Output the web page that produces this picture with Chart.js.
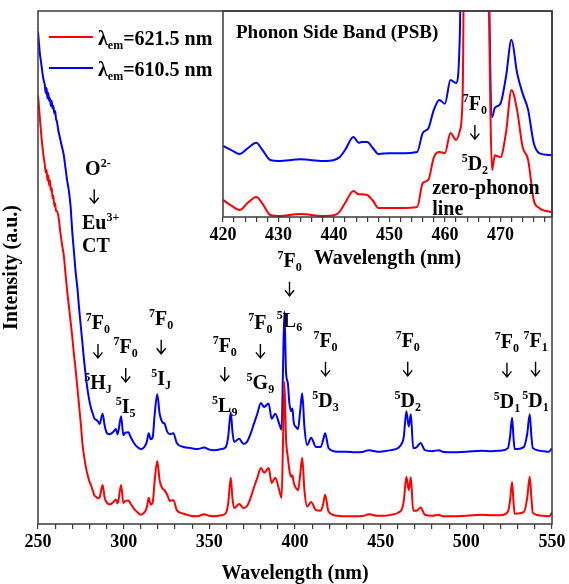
<!DOCTYPE html>
<html>
<head>
<meta charset="utf-8">
<script src="https://cdn.jsdelivr.net/npm/chart.js@4.4.0/dist/chart.umd.min.js"></script>
<style>
  html, body { margin: 0; padding: 0; background: #fff; }
  #wrap { position: relative; width: 569px; height: 584px; }
  #main { position: absolute; left: 0; top: 0; }
  #inset { position: absolute; left: 200px; top: 0; }
</style>
</head>
<body>
<div id="wrap">
  <canvas id="main" width="569" height="584"></canvas>
  <canvas id="inset" width="369" height="270"></canvas>
</div>
<script>
// excitation spectra, main panel (nm / a.u., blue trace offset upward)
const wavelength = [
  250, 251, 252, 253, 254, 254.5, 255, 255.5, 256, 256.5,
  257, 257.5, 258, 258.5, 259, 259.5, 260, 260.5, 261, 262,
  263, 264, 265, 266, 267, 268, 269, 270, 271, 272,
  273, 274, 275, 276, 277, 278, 279, 280, 281, 282,
  283, 284, 285, 286, 287.7, 289, 290.3, 292, 294, 295.5,
  296.5, 298.5, 299.8, 301, 302.8, 304, 306, 308, 310, 312,
  313.5, 314.6, 315.8, 317, 318, 319.6, 321, 322.5, 324, 325.4,
  327, 329, 331, 335, 339, 343, 347, 350, 353, 357,
  359.6, 361, 362.5, 363.5, 364.5, 367.4, 370, 372, 374, 376.2,
  378, 380.1, 382, 384.6, 386.4, 388.5, 390.8, 392.2, 393, 393.8,
  394.8, 395.8, 396.7, 397.7, 398.5, 399.3, 400.6, 401.8, 403, 404.2,
  405.5, 407.1, 409.4, 412.3, 415, 416.5, 417.6, 419.6, 425, 430,
  435, 440, 443, 445, 448, 452, 456, 460.2, 462.5, 463.5,
  465, 466.4, 467.6, 469, 471, 473.3, 475.8, 480, 484, 486,
  490, 500, 509, 515, 520, 524.3, 525.5, 526.7, 527.5, 528.2,
  533.5, 535.5, 537, 538, 538.8, 545, 548.2, 550,
]
const red621 = [
  83.6, 79.5, 75.5, 72.3, 70, 68.5, 69, 67, 68, 66,
  67, 65, 65.5, 63.5, 64, 62, 62.5, 61, 61, 59.8,
  57, 54.5, 52.5, 49, 45.5, 42.5, 39.5, 36.5, 33, 30,
  26.5, 23, 19.5, 15.5, 13, 11, 9.5, 8.3, 7.5, 6.5,
  5.5, 5.3, 5, 5.2, 7.6, 5, 4.1, 3.8, 4.3, 4.8,
  4, 7.6, 4.1, 4.5, 4.6, 4, 3, 2.3, 1.8, 2.2,
  3.2, 5.1, 3.8, 4.3, 8, 12.3, 8.5, 7, 6.5, 5.7,
  4.5, 4.7, 2.7, 2, 1.6, 1.5, 1.9, 1.6, 1.5, 1.7,
  2.1, 4, 9, 5, 3.1, 3.9, 3.1, 3.5, 5, 7.3,
  9, 10.9, 10, 10.9, 8, 9, 6.6, 5.1, 16, 27.7,
  16.4, 13.1, 10.5, 9.2, 9.5, 8, 7, 6.6, 9.5, 12.9,
  6.6, 3.4, 4.3, 2.7, 2.6, 4, 5.7, 2.4, 1.6, 1.5,
  1.5, 1.6, 1.9, 1.8, 1.6, 1.6, 1.8, 2.2, 3, 4.5,
  9.2, 6.6, 9.1, 2.6, 2.6, 3.2, 1.8, 1.6, 1.8, 1.5,
  1.5, 1.6, 1.8, 1.7, 1.7, 2.4, 4.5, 8.2, 4.5, 2,
  2.3, 5, 9.2, 5, 2.2, 1.6, 1.5, 2.2,
]
const blue610 = [
  96, 92, 89.5, 87, 85.5, 84, 85, 83, 84, 82.5,
  83, 81.5, 82.5, 81, 81.5, 80, 80.5, 79, 78.5, 76.5,
  75, 73.5, 72, 69.5, 67, 65, 62, 57, 53, 49,
  46, 42, 38.5, 35, 31.5, 28.5, 26, 24, 22.5, 21.5,
  20.5, 20.3, 20, 19.5, 21.5, 19, 17.7, 17.5, 18, 18.5,
  17.5, 21, 17.3, 17.8, 17.9, 17, 15.8, 15, 14.6, 15,
  16, 17.7, 16.5, 17, 21, 25.3, 21.5, 19.9, 19.5, 18,
  17.5, 17.7, 15.8, 15, 14.8, 14.6, 14.9, 14.5, 14.4, 14.6,
  15, 17, 21.8, 18, 16, 16.6, 15.6, 16, 17.5, 19.7,
  21.5, 23.6, 22.8, 23.5, 20.5, 21.5, 19.5, 18.4, 30, 41.4,
  29.4, 27.5, 23.6, 22, 22.5, 19.7, 18.9, 18.5, 22, 25.5,
  18.9, 15.4, 16.8, 15, 15, 16.5, 17.7, 14.8, 14.1, 14.1,
  14, 14.1, 14.4, 14.3, 14.1, 14.2, 14.4, 14.8, 15.8, 17,
  22, 19, 21.4, 14.8, 15, 15.8, 14.4, 14.2, 14.4, 14.1,
  14, 14.1, 14.3, 14.2, 14.3, 14.8, 17, 20.7, 17, 14.6,
  15, 17.5, 21.4, 17, 14.8, 14.2, 14.1, 14.8,
]

// phonon side band close-up around 7F0 -> 5D2 (zero-phonon line runs off scale)
const psbWavelength = [
  420, 421.5, 423, 424.5, 426, 427, 428.5, 430, 434, 438,
  440, 441, 442, 443.5, 444.5, 445, 446, 447, 448, 450,
  452, 455, 456, 457, 458, 459, 460, 461, 462, 462.7,
  463.2, 463.8, 464.4, 465, 467, 467.7, 468.5, 469, 470, 471,
  472, 473, 474, 475, 476, 477, 479.3,
]
const psbRed = [
  8.3, 5.5, 3.4, 7, 9.7, 7, 1, 0.5, 1.5, 0.5,
  0.8, 2.5, 6.8, 12.6, 11, 11, 10.7, 8, 4.4, 4.4,
  4.4, 4.9, 16.5, 18, 29, 31.6, 31, 40.8, 37.4, 42,
  60, 260, 260, 260, 260, 150, 22.8, 30, 29, 40.8,
  61.7, 52, 34, 27.7, 8.3, 4.4, 2.4,
]
const psbBlue = [
  34.5, 32.5, 30.6, 33.5, 36, 33, 27.7, 27.2, 28, 27.2,
  27.7, 29, 32.5, 38.8, 36, 36.4, 36.4, 33.5, 30.6, 31,
  31, 31.6, 40.8, 43, 52, 56.8, 55, 66.5, 65, 90,
  260, 260, 260, 260, 250, 150, 48.5, 53, 55, 68,
  86, 70, 60, 52, 36, 31, 30,
]

// mainTicks / psbTicks: labelled positions on the wavelength axes
const mainTicks = [250, 300, 350, 400, 450, 500, 550]
const psbTicks = [420, 430, 440, 450, 460, 470]

// transition labels: anchor wavelength and level (a.u.) of the upper term
const transitions = [
  { nm: 285.0, level: 39.4, from: ['7', 'F', '0'], to: ['5', 'H', 'J'] },
  { nm: 301.2, level: 34.7, from: ['7', 'F', '0'], to: ['5', 'I', '5'] },
  { nm: 321.9, level: 40.2, from: ['7', 'F', '0'], to: ['5', 'I', 'J'] },
  { nm: 359.0, level: 34.9, from: ['7', 'F', '0'], to: ['5', 'L', '9'] },
  { nm: 379.8, level: 39.4, from: ['7', 'F', '0'], to: ['5', 'G', '9'] },
  { nm: 396.8, level: 51.5, from: ['7', 'F', '0'], to: ['5', 'L', '6'] },
  { nm: 417.8, level: 35.9, from: ['7', 'F', '0'], to: ['5', 'D', '3'] },
  { nm: 465.8, level: 35.9, from: ['7', 'F', '0'], to: ['5', 'D', '2'] },
  { nm: 523.7, level: 35.7, from: ['7', 'F', '0'], to: ['5', 'D', '1'] },
  { nm: 540.4, level: 35.9, from: ['7', 'F', '1'], to: ['5', 'D', '1'] },
]

const RED = '#ff0000'
const BLUE = '#0000ff'
const INK = '#000'
const FRAME = '#3a3a3a'
const SERIF = '"Liberation Serif", "DejaVu Serif", serif'
const BIG = 'bold 20px ' + SERIF
const SMALL = 'bold 12px ' + SERIF

function toPoints(xs, ys) {
  return xs.map((x, i) => ({ x: x, y: ys[i] }))
}

// parts: [text, 'n' | 'sup' | 'sub'], y is the middle of the capitals
function drawRich(ctx, parts, x, y, align) {
  let total = 0
  const widths = parts.map(([t, k]) => {
    ctx.font = k === 'n' ? BIG : SMALL
    const w = ctx.measureText(t).width
    total += w
    return w
  })
  let cx = align === 'left' ? x : x - total / 2
  const base = y + 7
  ctx.textAlign = 'left'
  ctx.textBaseline = 'alphabetic'
  parts.forEach(([t, k], i) => {
    ctx.font = k === 'n' ? BIG : SMALL
    const dy = k === 'sup' ? -8 : k === 'sub' ? 4 : 0
    ctx.fillText(t, cx, base + dy)
    cx += widths[i]
  })
}

// thin down arrow centred on (x, y)
function drawArrow(ctx, x, y) {
  ctx.save()
  ctx.strokeStyle = INK
  ctx.lineWidth = 1.4
  ctx.beginPath()
  ctx.moveTo(x, y - 7)
  ctx.lineTo(x, y + 7)
  ctx.moveTo(x - 4.5, y + 1.5)
  ctx.lineTo(x, y + 7)
  ctx.lineTo(x + 4.5, y + 1.5)
  ctx.stroke()
  ctx.restore()
}

function term(t) {
  return [[t[0], 'sup'], [t[1], 'n'], [t[2], 'sub']]
}

function drawTransition(ctx, x, y, from, to) {
  drawRich(ctx, term(from), x, y)
  drawArrow(ctx, x, y + 29)
  drawRich(ctx, term(to), x, y + 60)
}

const framePlugin = {
  id: 'frame',
  afterDraw(chart) {
    const { ctx, chartArea: a } = chart
    ctx.save()
    ctx.strokeStyle = FRAME
    ctx.lineWidth = 1.5
    ctx.strokeRect(a.left, a.top, a.right - a.left, a.bottom - a.top)
    ctx.restore()
  },
}

const mainLabels = {
  id: 'mainLabels',
  afterDraw(chart) {
    const { ctx, chartArea: a } = chart
    const xs = chart.scales.x
    const ys = chart.scales.y
    ctx.save()
    ctx.fillStyle = INK

    // legend
    const rows = [
      [RED, '=621.5 nm', 26],
      [BLUE, '=610.5 nm', 57],
    ]
    rows.forEach(([color, text, dy]) => {
      const ly = a.top + dy
      ctx.strokeStyle = color
      ctx.lineWidth = 2
      ctx.beginPath()
      ctx.moveTo(a.left + 11, ly)
      ctx.lineTo(a.left + 55, ly)
      ctx.stroke()
      ctx.fillStyle = INK
      drawRich(ctx, [['\u03bb', 'n'], ['em', 'sub'], [text, 'n']], a.left + 60, ly + 1, 'left')
    })

    // charge transfer band
    drawRich(ctx, [['O', 'n'], ['2-', 'sup']], xs.getPixelForValue(277.5), ys.getPixelForValue(69.4), 'left')
    drawArrow(ctx, xs.getPixelForValue(282.8), ys.getPixelForValue(63.9))
    drawRich(ctx, [['Eu', 'n'], ['3+', 'sup']], xs.getPixelForValue(275.7), ys.getPixelForValue(58.9), 'left')
    drawRich(ctx, [['CT', 'n']], xs.getPixelForValue(275.7), ys.getPixelForValue(54.4), 'left')

    transitions.forEach((t) => {
      drawTransition(ctx, xs.getPixelForValue(t.nm), ys.getPixelForValue(t.level), t.from, t.to)
    })
    ctx.restore()
  },
}

const insetLabels = {
  id: 'insetLabels',
  afterDraw(chart) {
    const { ctx, chartArea: a } = chart
    const xs = chart.scales.x
    const ys = chart.scales.y
    ctx.save()
    ctx.fillStyle = INK
    ctx.font = 'bold 19px ' + SERIF
    ctx.textAlign = 'left'
    ctx.textBaseline = 'middle'
    ctx.fillText('Phonon Side Band (PSB)', a.left + 13, a.top + 22)

    drawTransition(ctx, xs.getPixelForValue(465.4), ys.getPixelForValue(55.3), ['7', 'F', '0'], ['5', 'D', '2'])
    drawRich(ctx, [['zero-phonon', 'n']], xs.getPixelForValue(457.7), ys.getPixelForValue(14.6), 'left')
    drawRich(ctx, [['line', 'n']], xs.getPixelForValue(457.7), ys.getPixelForValue(4.4), 'left')
    ctx.restore()
  },
}

function wavelengthAxis(min, max, step, labelled, height, titleLine) {
  return {
    type: 'linear',
    min: min,
    max: max,
    ticks: {
      stepSize: step,
      autoSkip: false,
      includeBounds: false,
      maxRotation: 0,
      padding: 3,
      color: INK,
      font: { family: SERIF, size: 18, weight: 'bold' },
      callback: (v) => (labelled.includes(Math.round(v * 10) / 10) ? String(v) : ''),
    },
    grid: {
      drawOnChartArea: false,
      tickLength: 5,
      color: FRAME,
      lineWidth: 1.2,
    },
    border: { display: false },
    title: {
      display: true,
      text: 'Wavelength (nm)',
      color: INK,
      font: { family: SERIF, size: 20, weight: 'bold', lineHeight: titleLine },
      padding: 0,
    },
    afterFit: (s) => {
      s.height = height
    },
  }
}

function lineSet(label, xs, ys, color) {
  return {
    label: label,
    data: toPoints(xs, ys),
    borderColor: color,
    backgroundColor: color,
    borderWidth: 2,
    pointRadius: 0,
    cubicInterpolationMode: 'monotone',
  }
}

new Chart(document.getElementById('main'), {
  type: 'line',
  data: {
    datasets: [
      lineSet('\u03bbem=621.5 nm', wavelength, red621, RED),
      lineSet('\u03bbem=610.5 nm', wavelength, blue610, BLUE),
    ],
  },
  options: {
    responsive: false,
    animation: false,
    layout: { padding: { top: 11, right: 17, left: 0, bottom: 0 } },
    plugins: { legend: { display: false }, tooltip: { enabled: false } },
    scales: {
      x: wavelengthAxis(250, 550, 10, mainTicks, 60, 1.05),
      y: {
        min: 0,
        max: 100,
        ticks: { display: false },
        grid: { display: false },
        border: { display: false },
        title: {
          display: true,
          text: 'Intensity (a.u.)',
          color: INK,
          font: { family: SERIF, size: 20, weight: 'bold' },
          padding: 0,
        },
        afterFit: (s) => {
          s.width = 38
        },
      },
    },
  },
  plugins: [framePlugin, mainLabels],
})

new Chart(document.getElementById('inset'), {
  type: 'line',
  data: {
    datasets: [
      lineSet('\u03bbem=621.5 nm', psbWavelength, psbRed, RED),
      lineSet('\u03bbem=610.5 nm', psbWavelength, psbBlue, BLUE),
    ],
  },
  options: {
    responsive: false,
    animation: false,
    layout: { padding: { top: 11, right: 17, left: 0, bottom: 0 } },
    plugins: { legend: { display: false }, tooltip: { enabled: false } },
    scales: {
      x: wavelengthAxis(420, 479.3, 2, psbTicks, 53, 1.1),
      y: {
        min: 0,
        max: 100,
        ticks: { display: false },
        grid: { display: false },
        border: { display: false },
        afterFit: (s) => {
          s.width = 23
        },
      },
    },
  },
  plugins: [framePlugin, insetLabels],
})
</script>
</body>
</html>
